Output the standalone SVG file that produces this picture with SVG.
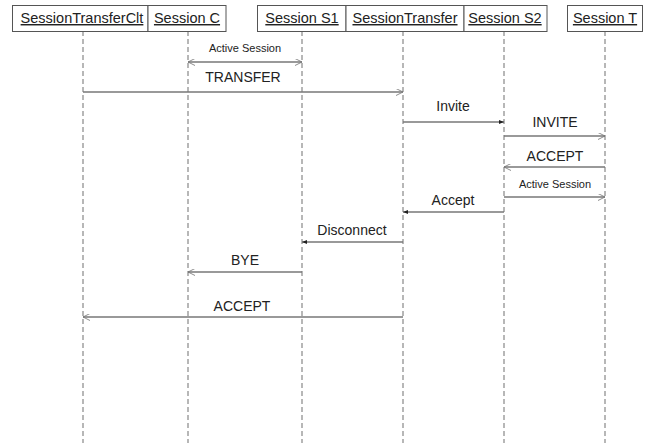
<svg xmlns="http://www.w3.org/2000/svg" width="645" height="443" viewBox="0 0 645 443">
<defs>
<marker id="open" viewBox="0 0 10 10" refX="10" refY="5" markerWidth="7" markerHeight="7" markerUnits="userSpaceOnUse" orient="auto-start-reverse">
<path d="M0,0 L10,5 L0,10" fill="none" stroke="#777" stroke-width="1.2"/>
</marker>
<marker id="solid" viewBox="0 0 10 10" refX="10" refY="5" markerWidth="5" markerHeight="5" markerUnits="userSpaceOnUse" orient="auto">
<path d="M0,1 L10,5 L0,9 Z" fill="#222"/>
</marker>
<style>
.box{fill:#fff;stroke:#555;stroke-width:1}
.hdr{font-family:"Liberation Sans",Arial,sans-serif;font-size:14.5px;fill:#222;text-decoration:underline;text-anchor:middle}
.life{stroke:#888;stroke-width:1.2;stroke-dasharray:5,3;fill:none}
.msg{stroke:#777;stroke-width:1.5;fill:none}
.lbl{font-family:"Liberation Sans",Arial,sans-serif;font-size:14px;fill:#222;text-anchor:middle}
.sm{font-family:"Liberation Sans",Arial,sans-serif;font-size:11px;fill:#222;text-anchor:middle}
</style>
</defs>
<rect width="645" height="443" fill="#fff"/>
<g id="lifelines">
<line class="life" x1="83" y1="31" x2="83" y2="443"/>
<line class="life" x1="188" y1="31" x2="188" y2="443"/>
<line class="life" x1="302" y1="31" x2="302" y2="443"/>
<line class="life" x1="403" y1="31" x2="403" y2="443"/>
<line class="life" x1="504" y1="31" x2="504" y2="443"/>
<line class="life" x1="605" y1="31" x2="605" y2="443"/>
</g>
<g id="n-clt"><rect class="box" x="12.5" y="5.5" width="135.5" height="26"/><text class="hdr" x="82" y="23">SessionTransferClt</text></g>
<g id="n-c"><rect class="box" x="148" y="5.5" width="78" height="26"/><text class="hdr" x="187" y="23">Session C</text></g>
<g id="n-s1"><rect class="box" x="257.5" y="5.5" width="88.5" height="26"/><text class="hdr" x="302" y="23">Session S1</text></g>
<g id="n-st"><rect class="box" x="346" y="5.5" width="118" height="26"/><text class="hdr" x="405" y="23">SessionTransfer</text></g>
<g id="n-s2"><rect class="box" x="464" y="5.5" width="83" height="26"/><text class="hdr" x="505" y="23">Session S2</text></g>
<g id="n-t"><rect class="box" x="567.5" y="5.5" width="75" height="26"/><text class="hdr" x="605" y="23">Session T</text></g>
<g id="connectors">
<line class="msg" x1="188" y1="62" x2="302" y2="62" marker-start="url(#open)" marker-end="url(#open)"/>
<text class="sm" x="245" y="52">Active Session</text>
<line class="msg" x1="83" y1="92" x2="403" y2="92" marker-end="url(#open)"/>
<text class="lbl" x="243" y="82">TRANSFER</text>
<line class="msg" x1="403" y1="122" x2="504" y2="122" marker-end="url(#solid)"/>
<text class="lbl" x="453" y="111">Invite</text>
<line class="msg" x1="504" y1="136" x2="605" y2="136" marker-end="url(#open)"/>
<text class="lbl" x="555" y="127">INVITE</text>
<line class="msg" x1="605" y1="167" x2="504" y2="167" marker-end="url(#open)"/>
<text class="lbl" x="555" y="161">ACCEPT</text>
<line class="msg" x1="504" y1="197" x2="605" y2="197" marker-end="url(#open)"/>
<text class="sm" x="555" y="188">Active Session</text>
<line class="msg" x1="504" y1="212" x2="403" y2="212" marker-end="url(#solid)"/>
<text class="lbl" x="453" y="205">Accept</text>
<line class="msg" x1="403" y1="242" x2="302" y2="242" marker-end="url(#solid)"/>
<text class="lbl" x="352" y="235">Disconnect</text>
<line class="msg" x1="302" y1="272" x2="188" y2="272" marker-end="url(#open)"/>
<text class="lbl" x="245" y="265">BYE</text>
<line class="msg" x1="403" y1="317" x2="83" y2="317" marker-end="url(#open)"/>
<text class="lbl" x="242" y="311">ACCEPT</text>
</g>
</svg>
